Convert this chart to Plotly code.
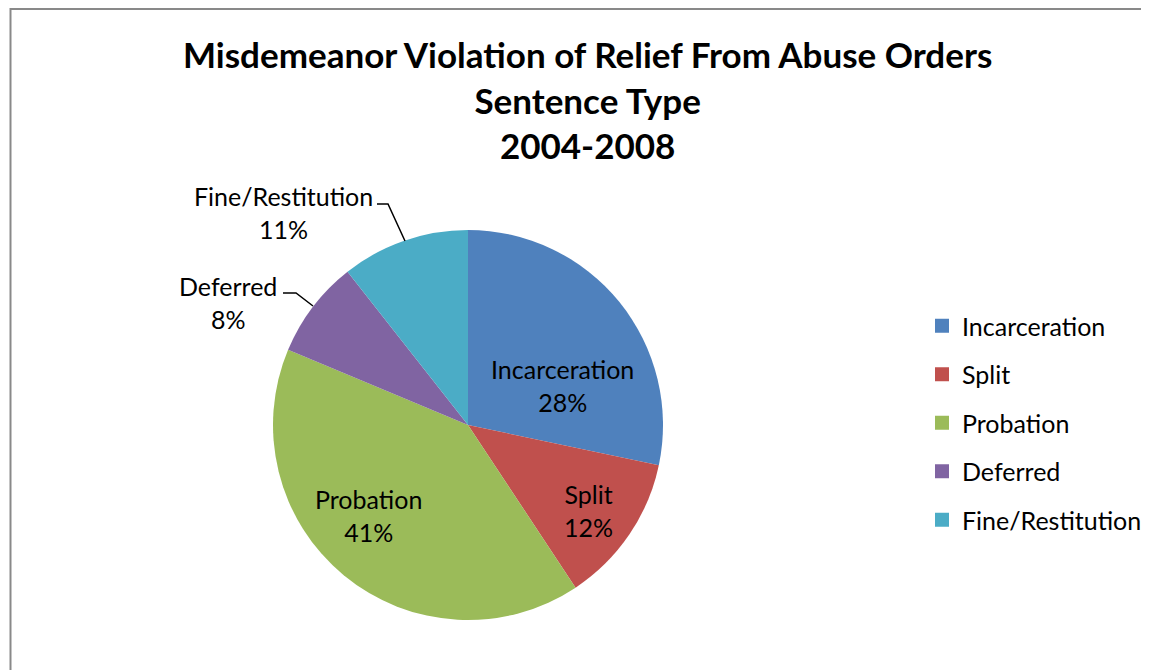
import plotly.graph_objects as go

categories = ["Incarceration", "Split", "Probation", "Deferred", "Fine/Restitution"]
shares = [28.3, 12.4, 40.6, 8.1, 10.6]
colors = ["#4F81BD", "#C0504D", "#9BBB59", "#8064A2", "#4BACC6"]
title_lines = ["Misdemeanor Violation of Relief From Abuse Orders", "Sentence Type", "2004-2008"]

W, H = 1149, 670
OFF = 8  # page body margin
FONT = "Lato"
fs = 25


def px(x, y):
    return (x - OFF) / W, 1 - (y - OFF) / H


total = sum(shares)

fig = go.Figure()
fig.add_trace(go.Pie(
    labels=categories, values=shares, sort=False, direction="clockwise", rotation=0,
    marker=dict(colors=colors, line=dict(width=0)),
    textinfo="none",
    domain=dict(x=[(273 - OFF) / W, (663 - OFF) / W],
                y=[(H - 620 + OFF) / H, (H - 230 + OFF) / H]),
    showlegend=False, hoverinfo="label+percent",
))

for c, col in zip(categories, colors):
    fig.add_trace(go.Scatter(
        x=[None], y=[None], mode="markers", name=c, legendgroup=c,
        marker=dict(symbol="square", size=14, color=col),
    ))

# label anchor positions (text centres) and leader lines for outer labels
label_pos = {"Incarceration": (562, 385), "Split": (588, 510), "Probation": (368, 515),
             "Deferred": (228, 302), "Fine/Restitution": (283, 212)}
leaders = {"Deferred": [(283, 293), (296, 293), (313, 306)],
           "Fine/Restitution": [(377, 204), (388, 204), (405, 241)]}

annotations = []
shapes = []
for i, c in enumerate(categories):
    pct = round(shares[i] / total * 100)
    x, y = px(*label_pos[c])
    annotations.append(dict(
        x=x, y=y, xref="paper", yref="paper", showarrow=False,
        text=f"{c}<br>{pct}%", font=dict(family=FONT, size=fs, color="black"),
        xanchor="center", yanchor="middle",
    ))
    if c in leaders:
        pts = [px(*p) for p in leaders[c]]
        path = "M " + " L ".join(f"{a} {b}" for a, b in pts)
        shapes.append(dict(type="path", xref="paper", yref="paper", path=path,
                           line=dict(color="black", width=1.5)))

# chart title
tx, ty = px(587, 100)
annotations.append(dict(
    x=tx, y=ty, xref="paper", yref="paper", showarrow=False,
    text="<b>" + "<br>".join(title_lines) + "</b>",
    font=dict(family=FONT, size=35, color="black"),
    xanchor="center", yanchor="middle", align="center",
))

bx0, by1 = px(10.5, 9)
shapes.append(dict(type="rect", xref="paper", yref="paper",
                   x0=bx0, x1=1.1, y0=-0.1, y1=min(by1, 1 - 1 / H),
                   line=dict(color="#898989", width=2), fillcolor="rgba(0,0,0,0)"))

lx, ly = px(922, 303)
fig.update_layout(
    width=W, height=H,
    margin=dict(l=0, r=0, t=0, b=0),
    paper_bgcolor="white", plot_bgcolor="white",
    xaxis=dict(visible=False), yaxis=dict(visible=False),
    legend=dict(x=lx, y=ly, xanchor="left", yanchor="top",
                font=dict(family=FONT, size=fs, color="black"),
                tracegroupgap=13, itemwidth=30, bgcolor="rgba(0,0,0,0)"),
    annotations=annotations, shapes=shapes,
)

fig.write_html("out.html")
